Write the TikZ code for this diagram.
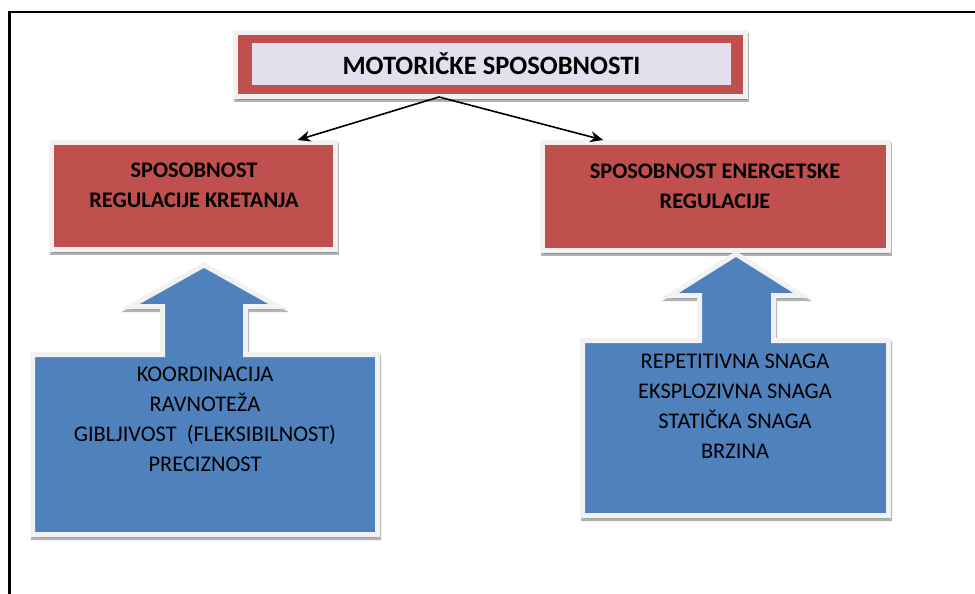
\documentclass[tikz,border=0pt]{standalone}
\usepackage{fontspec}
\setmainfont{Carlito}
\usetikzlibrary{calc,shadows,arrows.meta}
\definecolor{crvena}{HTML}{C0504D}
\definecolor{plava}{HTML}{4F81BD}
\definecolor{lila}{HTML}{E4DFEC}
\definecolor{okvir}{HTML}{F2F2F2}
\tikzset{
  sjena/.style={drop shadow={shadow xshift=1pt,shadow yshift=-3pt,fill=black!60,draw=black!60,line width=5pt,opacity=.5}},
  kutija/.style={rectangle,draw=okvir,line width=5pt,inner sep=0pt,sjena},
  oblik/.style={draw=okvir,fill=plava,line width=5pt,sjena},
  crvtekst/.style={align=center,font=\fontsize{22.3}{30}\selectfont\bfseries},
  platekst/.style={align=center,font=\fontsize{22.4}{30}\selectfont},
  strelica/.style={line width=1.6pt,-{Stealth[length=13pt,width=11pt]}}
}

\begin{document}
\begin{tikzpicture}[x=1pt,y=-1pt]
            \useasboundingbox (0,0) rectangle (975,594);
            \draw[line width=2.2pt] (9.5,594)--(9.5,12)--(975,12);
            % naslov
            \node[kutija,fill=crvena,minimum width=510pt,minimum height=64pt] (M) at (490.5,64.5) {};
            \node[fill=lila,minimum width=479pt,minimum height=42pt,inner sep=0pt,font=\fontsize{26.5}{30}\selectfont\bfseries] (Mt) at (491.5,64) {MOTORIČKE SPOSOBNOSTI};
            % crvene kutije
            \node[kutija,fill=crvena,minimum width=284pt,minimum height=107pt] (L) at (193.5,196) {};
            \node[crvtekst] (Lt) at (194,185) {SPOSOBNOST\\REGULACIJE KRETANJA};
            \node[kutija,fill=crvena,minimum width=346pt,minimum height=108pt] (R) at (715.5,196.5) {};
            \node[crvtekst] (Rt) at (715,186) {SPOSOBNOST ENERGETSKE\\REGULACIJE};
            \coordinate (V) at ($(M.south west)!0.4!(M.south east)+(0,-2)$);
            \coordinate (Lv) at ($(L.north west)!0.86!(L.north east)$);
            \coordinate (Rv) at ($(R.north west)!0.18!(R.north east)$);
            \draw[strelica] (V)--(Lv);
            \draw[strelica] (V)--(Rv);
            % plave strelice
            \draw[oblik] (32.5,534.5)--(32.5,354.5)--(162.5,354.5)--(162.5,306.5)--(130,306.5)--(204,265)
                --(278,306.5)--(245.5,306.5)--(245.5,354.5)--(377.5,354.5)--(377.5,534.5)--cycle;
            \node[platekst] (Lp) at (205,419) {KOORDINACIJA\\RAVNOTEŽA\\GIBLJIVOST\ \ (FLEKSIBILNOST)\\PRECIZNOST};
            \draw[oblik] (582.5,515.5)--(582.5,340.5)--(699.5,340.5)--(699.5,295.5)--(670,295.5)--(736,254)
                --(802,295.5)--(773.5,295.5)--(773.5,340.5)--(888.5,340.5)--(888.5,515.5)--cycle;
            \node[platekst] (Rp) at (735,406) {REPETITIVNA SNAGA\\EKSPLOZIVNA SNAGA\\STATIČKA SNAGA\\BRZINA};
        \end{tikzpicture}
\end{document}
